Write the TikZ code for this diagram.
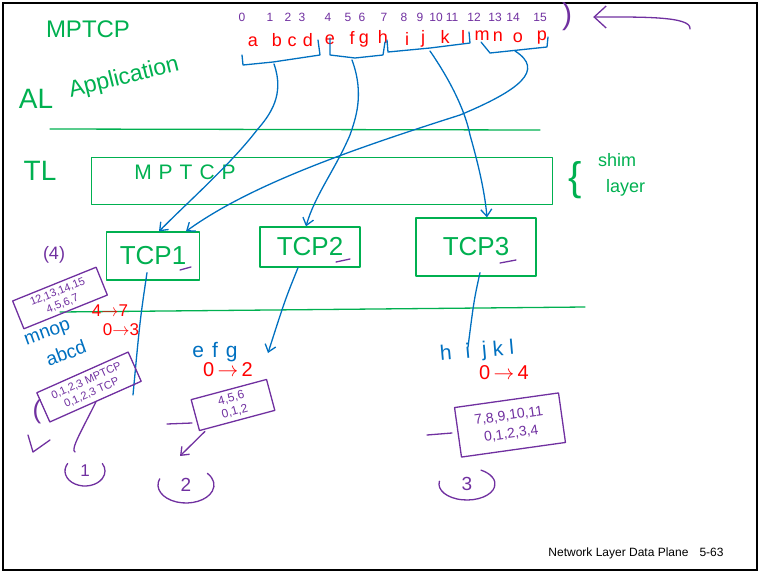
\documentclass[tikz,border=0pt]{standalone}
\usepackage{fontspec}
\setmainfont{Liberation Sans}
\usetikzlibrary{arrows.meta}
\definecolor{inkgreen}{RGB}{0,176,80}
\definecolor{inkblue}{RGB}{0,112,192}
\definecolor{inkred}{RGB}{255,0,0}
\definecolor{inkpurple}{RGB}{112,48,160}
\newcommand{\inksize}[1]{\fontsize{#1}{#1}\selectfont}

\begin{document}
\begin{tikzpicture}[x=1pt, y=-1pt]
    \tikzstyle{ink}=[line width=1.3pt, line cap=round, line join=round]
    \tikzstyle{green ink}=[ink, draw=inkgreen]
    \tikzstyle{blue ink}=[ink, draw=inkblue]
    \tikzstyle{purple ink}=[ink, draw=inkpurple]
    \tikzstyle{hand}=[-{Straight Barb[length=7pt,width=11pt]}]
    \tikzstyle{green text}=[text=inkgreen, inner sep=1pt]
    \tikzstyle{blue text}=[text=inkblue, inner sep=1pt, font=\inksize{19}]
    \tikzstyle{red text}=[text=inkred, inner sep=1pt, font=\inksize{17}]
    \tikzstyle{purple text}=[text=inkpurple, inner sep=1pt]
    \tikzstyle{tcp box}=[ink, draw=inkgreen, text=inkgreen,
        font=\inksize{26}, inner sep=0pt]
    \tikzstyle{seq box}=[ink, draw=inkpurple, text=inkpurple,
        font=\inksize{11}, align=center, inner sep=2pt]

    \useasboundingbox (0,0) rectangle (761,574);
    \draw[line width=1.6pt] (3,3) rectangle (757,570);

    % layers
    \node[green text, font=\inksize{24}] (title) at (88,29) {MPTCP};
    \node[green text, font=\inksize{28}] (al) at (36,99) {AL};
    \node[green text, font=\inksize{23}, rotate=14] (app) at (124,78) {Application};
    \node[green text, font=\inksize{28}] (tl) at (40,171) {TL};
    \draw[green ink] (50,129) -- (540,130);
    \draw[green ink] (60,312) -- (585,307);

    \node[ink, draw=inkgreen, minimum width=461pt, minimum height=47pt] (shim) at (322,181) {};
    \node[green text, font=\inksize{21}] (shimlabel) at (185,172) {M\,\,P\,\,T\,\,C\,\,P};
    \node[green text, font=\inksize{40}] (brace) at (575,180) {\{};
    \node[green text, font=\inksize{18}, anchor=west] (shimword) at (597,160) {shim};
    \node[green text, font=\inksize{18}, anchor=west] (layerword) at (605,188) {layer};

    % byte stream
    \foreach \ch/\x/\y/\n/\nx in {a/253/42/0/242, b/277/40/1/270, c/292/42/2/288,
        d/308/40/3/302, e/330/40/4/328, f/352/38/5/348, g/364/41/6/362,
        h/383/37/7/384, i/407/39/8/404, j/423/39/9/420, k/445/37/10/436,
        l/463/37/11/452, m/482/36/12/474, n/498/37/13/495, o/518/38/14/513,
        p/542/38/15/540}{
        \node[red text, font=\inksize{18}] (byte\ch) at (\x,\y) {\ch};
        \node[purple text, font=\inksize{12}] (pos\n) at (\nx,17) {\n};
    }
    \node[purple text, font=\inksize{30}] (close) at (567,17) {)};
    \coordinate (pointer) at (690,29);
    \draw[purple ink, -{Straight Barb[length=12pt,width=22pt]}]
        (pointer) .. controls (692,16) and (640,17) .. ([xshift=20pt]close.east);

    \draw[blue ink] (242,55) -- (243,65) -- (273,62) -- (320,55) -- (318,40);
    \draw[blue ink] (330,38) -- (330,55) -- (355,58) -- (383,55) -- (385,42);
    \draw[blue ink] (387,40) -- (388,52) -- (430,48) -- (470,43) -- (469,32);
    \draw[blue ink] (481,42) -- (490,53) -- (547,47) -- (548,37);
    \coordinate (grp1) at (274,64);
    \coordinate (grp2) at (352,60);
    \coordinate (grp3) at (430,51);
    \coordinate (grp4) at (515,51);

    % subflows
    \node[tcp box, minimum width=93pt, minimum height=48pt] (tcp1) at (153,256) {TCP1};
    \node[tcp box, minimum width=100pt, minimum height=40pt] (tcp2) at (310,247) {TCP2};
    \node[tcp box, minimum width=120pt, minimum height=58pt] (tcp3) at (476,247) {TCP3};
    \draw[purple ink] (180,270) -- (191,267);
    \draw[purple ink] (336,262) -- (350,259);
    \draw[purple ink] (500,263) -- (516,260);

    \path[blue ink, hand] (grp1) .. controls (285,95) and (270,115) .. (257,130)
        .. controls (230,165) and (190,200) .. ([xshift=6pt]tcp1.north);
    \path[blue ink, hand] (grp2) .. controls (365,95) and (355,120) .. (350,135)
        .. controls (335,170) and (315,195) .. ([xshift=-4pt]tcp2.north);
    \path[blue ink, hand] (grp3) .. controls (450,80) and (465,110) .. (470,135)
        .. controls (480,170) and (485,195) .. ([xshift=11pt]tcp3.north);
    \path[blue ink, hand] (grp4) .. controls (545,70) and (520,90) .. (460,115)
        .. controls (350,150) and (250,185) .. ([xshift=33pt]tcp1.north);

    \coordinate (out1) at (133,395);
    \coordinate (out2) at (268,353);
    \coordinate (out3) at (468,347);
    \draw[blue ink] ([xshift=-6pt, yshift=8pt]tcp1.south) .. controls (140,320) .. (out1);
    \draw[blue ink, hand] ([xshift=-12pt]tcp2.south) .. controls (285,300) .. (out2);
    \draw[blue ink] ([xshift=4pt, yshift=4pt]tcp3.south) .. controls (474,300) .. (out3);

    % segments of subflow 1
    \node[purple text, font=\inksize{18}] (tag4) at (54,255) {(4)};
    \node[seq box, rotate=22, minimum width=90pt, minimum height=30pt] (seq4) at (60,298)
        {12,13,14,15\\[2pt]4,5,6,7};
    \node[blue text, rotate=20] (mnop) at (48,334) {mnop};
    \node[red text] (map4) at (110,311) {4$\to$7};
    \node[blue text, rotate=20] (abcd) at (66,353) {abcd};
    \node[red text] (map1) at (121,330) {0$\to$3};
    \node[seq box, rotate=24, minimum width=100pt, minimum height=32pt] (seq1) at (89,387)
        {0,1,2,3 MPTCP\\[2pt]0,1,2,3 TCP};
    \node[purple text, font=\inksize{26}] (open1) at (37,412) {(};
    \draw[purple ink] (28,435) -- (33,452) -- (50,440);
    \node[purple text, font=\inksize{17}] (tag1) at (85,471) {1};
    \draw[purple ink] ([shift={(150:20pt and 15pt)}]tag1.center)
        arc[start angle=150, end angle=390, x radius=20pt, y radius=15pt];
    \coordinate (loop1) at (75,452);
    \draw[purple ink] (seq1.south) .. controls (82,430) and (70,450) .. (loop1);

    % segments of subflow 2
    \node[blue text, font=\inksize{21}] (efg) at (215,352) {e\hspace{8pt}f\hspace{8pt}g};
    \node[red text, font=\inksize{20}] (map2) at (228,370) {0\,$\to$\,2};
    \node[seq box, rotate=15, minimum width=78pt, minimum height=32pt, font=\inksize{12}]
        (seq2) at (233,405) {4,5,6\\[2pt]0,1,2};
    \draw[purple ink] (167,424) -- (192,423);
    \node[purple text, font=\inksize{19}] (tag2) at (186,485) {2};
    \draw[purple ink] ([shift={(160:28pt and 18pt)}]tag2.center)
        arc[start angle=160, end angle=400, x radius=28pt, y radius=18pt];
    \coordinate (drop2) at (180,456);
    \draw[purple ink, hand] ([xshift=6pt]seq2.south west) -- (drop2);

    % segments of subflow 3
    \node[blue text, font=\inksize{21}, rotate=5] (hijkl) at (477,352)
        {h\hspace{14pt}i\hspace{12pt}j\hspace{6pt}k\hspace{6pt}l};
    \node[red text, font=\inksize{20}] (map3) at (504,373) {0\,$\to$\,4};
    \node[seq box, rotate=8, minimum width=105pt, minimum height=50pt, font=\inksize{14}]
        (seq3) at (510,425) {7,8,9,10,11\\[4pt]0,1,2,3,4};
    \draw[purple ink] (427,435) -- (452,433);
    \node[purple text, font=\inksize{19}] (tag3) at (467,484) {3};
    \draw[purple ink] ([shift={(170:28pt and 16pt)}]tag3.center)
        arc[start angle=170, end angle=420, x radius=28pt, y radius=16pt];

    \node[font=\inksize{12}] (footer) at (636,553) {Network Layer Data Plane\hspace{11pt}5-63};
\end{tikzpicture}
\end{document}
